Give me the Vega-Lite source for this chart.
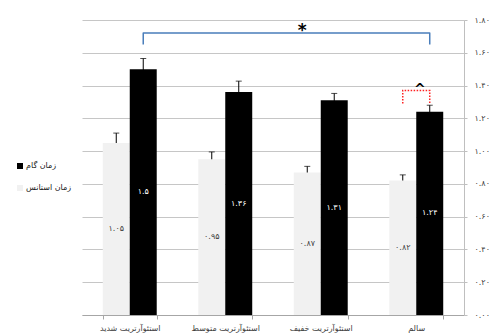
{
  "$schema": "https://vega.github.io/schema/vega-lite/v6.json",
  "width": 382,
  "height": 295,
  "autosize": "none",
  "padding": {"left": 82, "top": 20, "right": 40, "bottom": 21},
  "background": "white",
  "config": {
    "font": "DejaVu Sans",
    "view": {"stroke": null},
    "locale": {
      "number": {
        "decimal": ".",
        "thousands": ",",
        "grouping": [3],
        "currency": ["", ""],
        "numerals": ["۰", "۱", "۲", "۳", "۴", "۵", "۶", "۷", "۸", "۹"]
      }
    }
  },
  "datasets": {
    "bars": [
      {"group": "استئوآرتریت شدید", "series": "زمان استانس", "value": 1.05, "err": 0.06},
      {"group": "استئوآرتریت شدید", "series": "زمان گام", "value": 1.5, "err": 0.065},
      {"group": "استئوآرتریت متوسط", "series": "زمان استانس", "value": 0.95, "err": 0.045},
      {"group": "استئوآرتریت متوسط", "series": "زمان گام", "value": 1.36, "err": 0.067},
      {"group": "استئوآرتریت خفیف", "series": "زمان استانس", "value": 0.87, "err": 0.037},
      {"group": "استئوآرتریت خفیف", "series": "زمان گام", "value": 1.31, "err": 0.042},
      {"group": "سالم", "series": "زمان استانس", "value": 0.82, "err": 0.035},
      {"group": "سالم", "series": "زمان گام", "value": 1.24, "err": 0.04}
    ],
    "severe_vs_healthy": [
      {"step": 1, "group": "استئوآرتریت شدید", "series": "زمان گام", "y": 1.65},
      {"step": 2, "group": "استئوآرتریت شدید", "series": "زمان گام", "y": 1.72},
      {"step": 3, "group": "سالم", "series": "زمان گام", "y": 1.72},
      {"step": 4, "group": "سالم", "series": "زمان گام", "y": 1.65}
    ],
    "healthy_pair": [
      {"step": 1, "group": "سالم", "series": "زمان استانس", "y": 1.29},
      {"step": 2, "group": "سالم", "series": "زمان استانس", "y": 1.37},
      {"step": 3, "group": "سالم", "series": "زمان گام", "y": 1.37},
      {"step": 4, "group": "سالم", "series": "زمان گام", "y": 1.29}
    ],
    "marks": [
      {"group": "استئوآرتریت خفیف", "series": "زمان استانس", "y": 1.72, "sym": "*", "kind": "star"},
      {"group": "سالم", "series": "زمان گام", "y": 1.37, "sym": "^", "kind": "caret"}
    ]
  },
  "encoding": {
    "x": {
      "field": "group",
      "type": "nominal",
      "sort": null,
      "scale": {"paddingInner": 0.435, "paddingOuter": 0.2175},
      "axis": {
        "title": null,
        "labelAngle": 0,
        "labelFontSize": 8,
        "labelColor": "#404040",
        "labelPadding": 5,
        "domainColor": "#a6a6a6",
        "tickColor": "#a6a6a6",
        "tickSize": 4,
        "tickBand": "extent"
      }
    },
    "xOffset": {
      "field": "series",
      "type": "nominal",
      "scale": {"domain": ["زمان استانس", "زمان گام"], "paddingInner": 0, "paddingOuter": 0}
    }
  },
  "resolve": {"scale": {"color": "independent"}},
  "layer": [
    {
      "data": {"name": "bars"},
      "mark": {"type": "errorbar", "color": "#000000", "thickness": 1, "ticks": {"size": 6, "thickness": 1, "color": "#000000"}},
      "encoding": {
        "y": {
          "field": "value",
          "type": "quantitative",
          "scale": {"domain": [0, 1.8], "nice": false},
          "axis": {
            "orient": "right",
            "title": null,
            "values": [0, 0.2, 0.4, 0.6, 0.8, 1, 1.2, 1.4, 1.6, 1.8],
            "tickCount": 12,
            "labelOverlap": false,
            "format": ".2f",
            "grid": true,
            "gridColor": "#c6c6c6",
            "domainColor": "#bfbfbf",
            "tickColor": "#bfbfbf",
            "tickSize": 3,
            "labelFontSize": 8,
            "labelColor": "#404040",
            "labelPadding": 7
          }
        },
        "yError": {"field": "err"}
      }
    },
    {
      "data": {"name": "bars"},
      "mark": {"type": "bar"},
      "encoding": {
        "y": {
          "field": "value",
          "type": "quantitative",
          "scale": {"domain": [0, 1.8], "nice": false},
          "axis": {
            "orient": "right",
            "title": null,
            "values": [0, 0.2, 0.4, 0.6, 0.8, 1, 1.2, 1.4, 1.6, 1.8],
            "tickCount": 12,
            "labelOverlap": false,
            "format": ".2f",
            "grid": true,
            "gridColor": "#c6c6c6",
            "domainColor": "#bfbfbf",
            "tickColor": "#bfbfbf",
            "tickSize": 3,
            "labelFontSize": 8,
            "labelColor": "#404040",
            "labelPadding": 7
          }
        },
        "color": {
          "field": "series",
          "type": "nominal",
          "scale": {"domain": ["زمان گام", "زمان استانس"], "range": ["#000000", "#f1f1f1"]},
          "legend": {
            "title": null,
            "orient": "none",
            "legendX": -66,
            "legendY": 142,
            "symbolType": "square",
            "symbolSize": 36,
            "symbolStrokeWidth": 0,
            "labelFontSize": 8,
            "labelColor": "#202020",
            "labelOffset": 2,
            "rowPadding": 14
          }
        }
      }
    },
    {
      "data": {"name": "bars"},
      "mark": {
        "type": "text",
        "fontSize": 8,
        "baseline": "middle",
        "dy": {"expr": "(scale('y', 0) - scale('y', datum.value)) / 2"}
      },
      "encoding": {
        "y": {"field": "value", "type": "quantitative"},
        "text": {"field": "value", "type": "quantitative", "format": ".3~r"},
        "color": {
          "field": "series",
          "type": "nominal",
          "scale": {"domain": ["زمان گام", "زمان استانس"], "range": ["#ffffff", "#404040"]},
          "legend": null
        }
      }
    },
    {
      "data": {"name": "severe_vs_healthy"},
      "mark": {"type": "line", "color": "#4a7ebb", "strokeWidth": 1.5, "strokeJoin": "round"},
      "encoding": {
        "y": {"field": "y", "type": "quantitative"},
        "order": {"field": "step"}
      }
    },
    {
      "data": {"name": "healthy_pair"},
      "mark": {"type": "line", "color": "#ff2020", "strokeWidth": 1.5, "strokeDash": [1.5, 1.5]},
      "encoding": {
        "y": {"field": "y", "type": "quantitative"},
        "order": {"field": "step"}
      }
    },
    {
      "data": {"name": "marks"},
      "transform": [{"filter": "datum.kind == 'star'"}],
      "mark": {"type": "text", "fontSize": 17, "fontWeight": "bold", "color": "#000000", "dx": -5, "dy": -2},
      "encoding": {
        "y": {"field": "y", "type": "quantitative"},
        "text": {"field": "sym"}
      }
    },
    {
      "data": {"name": "marks"},
      "transform": [{"filter": "datum.kind == 'caret'"}],
      "mark": {"type": "text", "fontSize": 14, "fontWeight": "bold", "color": "#000000", "dx": -10, "dy": 0},
      "encoding": {
        "y": {"field": "y", "type": "quantitative"},
        "text": {"field": "sym"}
      }
    }
  ]
}
